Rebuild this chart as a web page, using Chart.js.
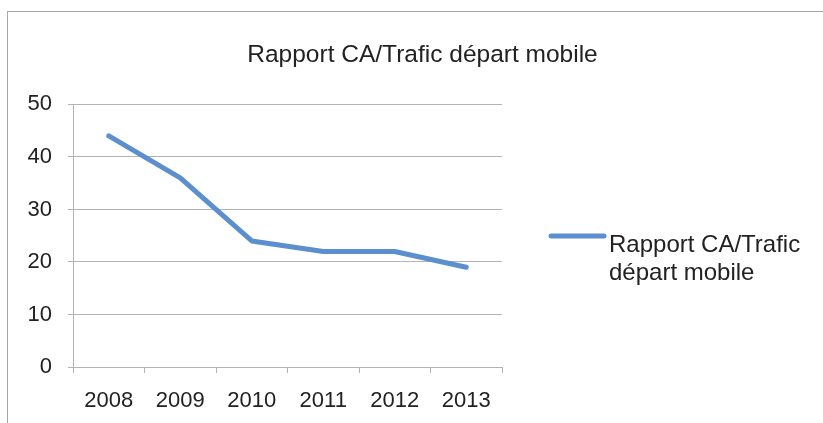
<!DOCTYPE html>
<html>
<head>
<meta charset="utf-8">
<script src="https://cdn.jsdelivr.net/npm/chart.js"></script>
<style>
    html, body { margin: 0; padding: 0; background: #fff; overflow: hidden; }
    #cadre { position: absolute; left: 7px; top: 11px; width: 900px; height: 500px; border: 1px solid #a6a6a6; }
    #zone { position: absolute; left: 0; top: 0; width: 845px; height: 423px; }
</style>
</head>
<body>
<div id="cadre"></div>
<div id="zone"><canvas id="graphique"></canvas></div>
<script>
const annees = ["2008", "2009", "2010", "2011", "2012", "2013"];
const rapportCA = [44, 36, 24, 22, 22, 19];
const graduations = [0, 10, 20, 30, 40, 50];
const titre = "Rapport CA/Trafic départ mobile";
const nomSerie = ["Rapport CA/Trafic", "départ mobile"];

const police = "'Liberation Sans', Arial, sans-serif";
const bleu = "#5b8fcd";
const gris = "#b3b3b3";

// legende dessinee a la main pour pouvoir couper le texte en deux lignes
const legendeManuelle = {
    id: "legendeManuelle",
    afterDraw(chart) {
        const ctx = chart.ctx;
        const ds = chart.data.datasets[0];
        const x0 = chart.chartArea.right + 49;
        ctx.save();
        ctx.strokeStyle = ds.borderColor;
        ctx.lineWidth = 5;
        ctx.lineCap = "round";
        ctx.beginPath();
        ctx.moveTo(x0, 236);
        ctx.lineTo(x0 + 53, 236);
        ctx.stroke();
        ctx.fillStyle = "#222";
        ctx.font = "24px " + police;
        ctx.textBaseline = "alphabetic";
        nomSerie.forEach((ligne, i) => ctx.fillText(ligne, x0 + 58, 252 + i * 28));
        ctx.restore();
    }
};

const ctx = document.getElementById("graphique").getContext("2d");
new Chart(ctx, {
    type: "line",
    data: {
        labels: annees,
        datasets: [{
            label: nomSerie.join(" "),
            data: rapportCA,
            borderColor: bleu,
            backgroundColor: bleu,
            borderWidth: 5,
            borderCapStyle: "round",
            borderJoinStyle: "round",
            pointRadius: 0,
            tension: 0
        }]
    },
    options: {
        responsive: true,
        maintainAspectRatio: false,
        animation: false,
        layout: { padding: 0 },
        plugins: {
            legend: { display: false },
            tooltip: { enabled: false },
            title: {
                display: true,
                text: titre,
                color: "#222",
                font: { family: police, size: 24.5, weight: "normal" },
                padding: { top: 41, bottom: 34 }
            }
        },
        scales: {
            x: {
                offset: true,
                grid: { offset: true, drawOnChartArea: false, drawTicks: true, tickLength: 6, color: gris },
                border: { color: gris },
                ticks: { color: "#222", padding: 15, maxRotation: 0, font: { family: police, size: 22 } },
                afterFit: (scale) => { scale.height = 56; }
            },
            y: {
                min: 0,
                max: 50,
                afterBuildTicks: (scale) => { scale.ticks = graduations.map(v => ({ value: v })); },
                grid: { color: gris, tickLength: 5 },
                border: { color: gris },
                ticks: { color: "#222", padding: 16, font: { family: police, size: 22 } },
                afterFit: (scale) => { scale.width = 73; }
            },
            // axe vide a droite : reserve la place de la legende
            reserve: {
                type: "linear",
                position: "right",
                grid: { display: false },
                border: { display: false },
                ticks: { display: false },
                afterFit: (scale) => { scale.width = 343; }
            }
        }
    },
    plugins: [legendeManuelle]
});
</script>
</body>
</html>
